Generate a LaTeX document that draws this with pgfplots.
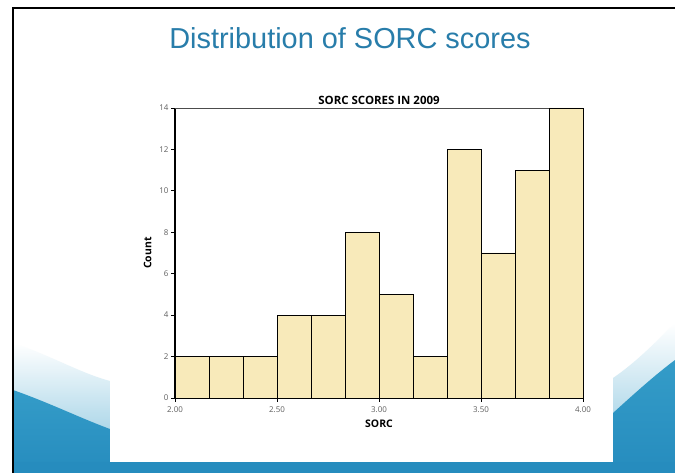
\documentclass[border=0pt]{standalone}
\usepackage{fontspec}
\setmainfont{Liberation Sans}
\newfontfamily\chartfont{Open Sans}
\usepackage{pgfplots}
\pgfplotsset{compat=1.18}
\definecolor{slideblue}{RGB}{40,125,170}
\definecolor{wave}{RGB}{52,156,200}
\definecolor{wavedark}{RGB}{38,140,190}
\definecolor{barfill}{RGB}{248,234,186}
\definecolor{ticktext}{RGB}{95,95,95}
\begin{document}
\begin{tikzpicture}[x=1bp,y=1bp]
\useasboundingbox (0,0) rectangle (675,473);
\fill[white] (0,0) rectangle (675,473);
% left wave
\shade[top color=white, bottom color=wave!60] (13,0) -- (13,130) .. controls (50,118) and (80,100) .. (110,92) -- (110,0) -- cycle;
\shade[top color=wave, bottom color=wavedark] (13,0) -- (13,83) .. controls (50,70) and (80,55) .. (110,44) -- (110,0) -- cycle;
% right wave
\shade[top color=white, bottom color=wave!60] (613,0) -- (613,95) .. controls (635,110) and (655,130) .. (675,150) -- (675,0) -- cycle;
\shade[top color=wave, bottom color=wavedark] (613,0) -- (613,60) .. controls (635,80) and (655,98) .. (675,113) -- (675,0) -- cycle;
% bottom strip
\fill[wavedark] (13,0) rectangle (675,11);
% white panel
\fill[white] (110,11) rectangle (613,410);
% frame
\draw[black, line width=1.4bp] (13,0) -- (13,465) -- (675,465);
% slide title
\node[text=slideblue, font=\fontsize{29}{33}\selectfont, anchor=base] at (350,424) {Distribution of SORC scores};
\begin{axis}[
  at={(175bp,75bp)}, anchor=south west,
  scale only axis, width=408bp, height=290bp,
  xmin=2, xmax=4, ymin=0, ymax=14,
  xtick={2,2.5,3,3.5,4},
  xticklabels={2.00,2.50,3.00,3.50,4.00},
  ytick={0,2,4,6,8,10,12,14},
  /pgf/number format/assume math mode=true,
  tick align=outside, xtick pos=left, ytick pos=left,
  major tick length=4bp,
  tick style={black, line width=0.9bp},
  axis line style={black},
  axis x line*=bottom, axis y line*=left,
  every outer x axis line/.append style={line width=1.2bp},
  every outer y axis line/.append style={line width=1.2bp},
  ticklabel style={text=ticktext, font=\chartfont\fontsize{8}{9}\selectfont},
  xticklabel style={yshift=-1bp},
  yticklabel style={xshift=1bp},
  title={\chartfont\bfseries SORC SCORES IN 2009},
  title style={font=\fontsize{11.5}{13}\selectfont, yshift=-6bp},
  xlabel={\chartfont\bfseries SORC},
  ylabel={\chartfont\bfseries Count},
  label style={font=\fontsize{10.5}{12}\selectfont},
  xlabel style={yshift=-1bp},
  ylabel style={yshift=1bp},
  clip=false,
]
\draw[black!70, line width=0.6bp] (axis cs:2,14) -- (axis cs:4,14) -- (axis cs:4,0);
\addplot[ybar interval, fill=barfill, draw=black, line width=0.9bp] coordinates {
(2.0000,2) (2.1667,2) (2.3333,2) (2.5000,4) (2.6667,4) (2.8333,8)
(3.0000,5) (3.1667,2) (3.3333,12) (3.5000,7) (3.6667,11) (3.8333,14) (4.0000,14)
};
\end{axis}
\end{tikzpicture}
\end{document}
